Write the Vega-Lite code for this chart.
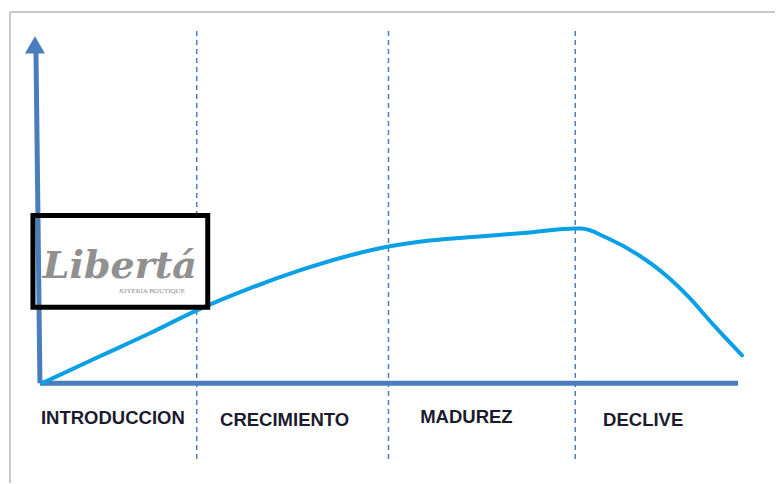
{
  "$schema": "https://vega.github.io/schema/vega-lite/v6.json",
  "width": 776,
  "height": 484,
  "autosize": {"type": "fit", "contains": "padding"},
  "padding": 0,
  "background": "white",
  "config": {"view": {"stroke": null}},
  "datasets": {
    "frame": [
      {"x": -30, "x2": 736, "y": 371, "y2": 371},
      {"x": -30, "x2": -30, "y": 371, "y2": -101}
    ],
    "curve": [
      {"t": 2, "sales": -1},
      {"t": 60, "sales": 26},
      {"t": 110, "sales": 49},
      {"t": 157, "sales": 72},
      {"t": 210, "sales": 94},
      {"t": 260, "sales": 112},
      {"t": 310, "sales": 127},
      {"t": 349, "sales": 136},
      {"t": 390, "sales": 142},
      {"t": 440, "sales": 146},
      {"t": 490, "sales": 150},
      {"t": 536, "sales": 154},
      {"t": 542, "sales": 154},
      {"t": 567, "sales": 145},
      {"t": 600, "sales": 127},
      {"t": 627, "sales": 107},
      {"t": 650, "sales": 85},
      {"t": 673, "sales": 59},
      {"t": 703, "sales": 27}
    ],
    "yaxis": [{"x": 0, "y": -1, "x2": -4, "y2": 333}],
    "arrow": [{"x": -5, "y": 338}],
    "xaxis": [{"x": 0, "y": -1, "x2": 699, "y2": -1}],
    "phases": [
      {"t": 157, "top": 352, "bottom": -79},
      {"t": 349, "top": 352, "bottom": -79},
      {"t": 536, "top": 352, "bottom": -79}
    ],
    "labels": [
      {"label": "INTRODUCCION", "t": 73, "y": -42},
      {"label": "CRECIMIENTO", "t": 245, "y": -44},
      {"label": "MADUREZ", "t": 427, "y": -41},
      {"label": "DECLIVE", "t": 604, "y": -44}
    ],
    "logo": [{"x": -7, "x2": 168, "y": 167, "y2": 75}],
    "logoText": [{"text": "Libertá", "x": 80, "y": 104}],
    "logoSub": [{"text": "JOYERIA BOUTIQUE", "x": 112, "y": 89}]
  },
  "layer": [
    {
      "data": {"name": "frame"},
      "mark": {"type": "rule", "color": "#c8c8c8", "strokeWidth": 2},
      "encoding": {
        "x": {"field": "x", "type": "quantitative", "scale": {"domain": [-40, 736], "nice": false, "zero": false}, "axis": null},
        "x2": {"field": "x2"},
        "y": {"field": "y", "type": "quantitative", "scale": {"domain": [-101, 383], "nice": false, "zero": false}, "axis": null},
        "y2": {"field": "y2"}
      }
    },
    {
      "data": {"name": "phases"},
      "mark": {"type": "rule", "color": "#4f7ec0", "strokeWidth": 1.5, "strokeDash": [5, 4]},
      "encoding": {
        "x": {"field": "t", "type": "quantitative"},
        "y": {"field": "top", "type": "quantitative"},
        "y2": {"field": "bottom"}
      }
    },
    {
      "data": {"name": "logo"},
      "mark": {"type": "rect", "fill": "white"},
      "encoding": {
        "x": {"field": "x", "type": "quantitative"},
        "x2": {"field": "x2"},
        "y": {"field": "y", "type": "quantitative"},
        "y2": {"field": "y2"}
      }
    },
    {
      "data": {"name": "yaxis"},
      "mark": {"type": "rule", "color": "#4a7dbc", "strokeWidth": 5},
      "encoding": {
        "x": {"field": "x", "type": "quantitative"},
        "x2": {"field": "x2"},
        "y": {"field": "y", "type": "quantitative"},
        "y2": {"field": "y2"}
      }
    },
    {
      "data": {"name": "arrow"},
      "mark": {"type": "point", "shape": "triangle-up", "size": 400, "filled": true, "color": "#4a7dbc", "opacity": 1},
      "encoding": {
        "x": {"field": "x", "type": "quantitative"},
        "y": {"field": "y", "type": "quantitative"}
      }
    },
    {
      "data": {"name": "xaxis"},
      "mark": {"type": "rule", "color": "#4a7dbc", "strokeWidth": 5},
      "encoding": {
        "x": {"field": "x", "type": "quantitative"},
        "x2": {"field": "x2"},
        "y": {"field": "y", "type": "quantitative"},
        "y2": {"field": "y2"}
      }
    },
    {
      "data": {"name": "curve"},
      "mark": {"type": "line", "color": "#0aa0e6", "strokeWidth": 4, "interpolate": "monotone", "strokeCap": "round"},
      "encoding": {
        "x": {"field": "t", "type": "quantitative"},
        "y": {"field": "sales", "type": "quantitative"}
      }
    },
    {
      "data": {"name": "logo"},
      "mark": {"type": "rect", "fill": null, "stroke": "black", "strokeWidth": 5},
      "encoding": {
        "x": {"field": "x", "type": "quantitative"},
        "x2": {"field": "x2"},
        "y": {"field": "y", "type": "quantitative"},
        "y2": {"field": "y2"}
      }
    },
    {
      "data": {"name": "logoText"},
      "mark": {"type": "text", "font": "DejaVu Serif", "fontStyle": "italic", "fontWeight": "bold", "fontSize": 38, "color": "#909090", "align": "center", "baseline": "alphabetic"},
      "encoding": {
        "x": {"field": "x", "type": "quantitative"},
        "y": {"field": "y", "type": "quantitative"},
        "text": {"field": "text"}
      }
    },
    {
      "data": {"name": "logoSub"},
      "mark": {"type": "text", "font": "Liberation Serif", "fontSize": 7, "color": "#8c8c8c", "align": "center", "baseline": "alphabetic"},
      "encoding": {
        "x": {"field": "x", "type": "quantitative"},
        "y": {"field": "y", "type": "quantitative"},
        "text": {"field": "text"}
      }
    },
    {
      "data": {"name": "labels"},
      "mark": {"type": "text", "font": "Liberation Sans", "fontWeight": "bold", "fontSize": 18.5, "color": "#1b1b2f", "align": "center", "baseline": "alphabetic"},
      "encoding": {
        "x": {"field": "t", "type": "quantitative"},
        "y": {"field": "y", "type": "quantitative"},
        "text": {"field": "label"}
      }
    }
  ]
}
